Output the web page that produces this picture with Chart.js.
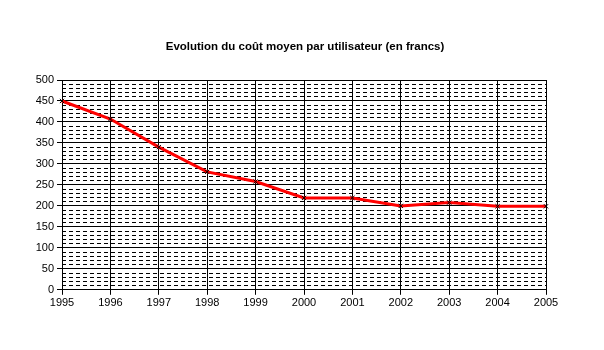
<!DOCTYPE html>
<html lang="fr">
<head>
    <meta charset="UTF-8">
    <title>Evolution du coût moyen par utilisateur</title>
    <script src="https://cdn.jsdelivr.net/npm/chart.js"></script>
    <style>
        html, body { margin: 0; padding: 0; background: #fff; }
        .chart-container { width: 604px; height: 350px; position: relative; }
    </style>
</head>
<body>
    <div class="chart-container">
        <canvas id="costChart"></canvas>
    </div>

    <script>
        // data
        const years = ['1995', '1996', '1997', '1998', '1999', '2000', '2001', '2002', '2003', '2004', '2005'];
        const avgCost = [450, 407, 340, 281, 258, 219, 219, 200, 208, 199, 199];
        const yMin = 0;
        const yMax = 500;
        const chartTitle = 'Evolution du coût moyen par utilisateur (en francs)';

        // title drawn centred on the whole canvas, not on the padded area
        const pageTitle = {
            id: 'pageTitle',
            afterDraw(chart) {
                const c = chart.ctx;
                c.save();
                c.fillStyle = '#000';
                c.font = 'bold 11.5px "Liberation Sans"';
                c.textAlign = 'center';
                c.textBaseline = 'middle';
                c.fillText(chartTitle, 305, 47);
                c.restore();
            }
        };

        const ctx = document.getElementById('costChart').getContext('2d');
        const costChart = new Chart(ctx, {
            type: 'line',
            data: {
                labels: years,
                datasets: [{
                    label: 'Coût moyen',
                    data: avgCost,
                    borderColor: '#ff0000',
                    borderWidth: 3,
                    tension: 0,
                    pointStyle: 'crossRot',
                    pointRadius: 3,
                    pointBorderColor: '#000',
                    pointBorderWidth: 1
                }]
            },
            options: {
                responsive: true,
                maintainAspectRatio: false,
                animation: false,
                layout: {
                    padding: { top: 80, right: 58, bottom: 38, left: 0 }
                },
                plugins: {
                    legend: { display: false },
                    tooltip: { enabled: false },
                    title: { display: false }
                },
                scales: {
                    x: {
                        offset: false,
                        grid: { color: '#000', lineWidth: 1, tickLength: 5 },
                        border: { color: '#000' },
                        ticks: {
                            color: '#000',
                            maxRotation: 0,
                            autoSkip: false,
                            padding: 2,
                            font: { family: 'Liberation Sans', size: 11 }
                        }
                    },
                    yMinor: {
                        position: 'left',
                        min: yMin,
                        max: yMax,
                        afterFit: s => { s.width = 0; },
                        ticks: { display: false, stepSize: 10 },
                        grid: { color: '#000', lineWidth: 1, drawTicks: false },
                        border: { display: false, dash: [4, 3] }
                    },
                    y: {
                        position: 'left',
                        min: yMin,
                        max: yMax,
                        afterFit: s => { s.width = 62; },
                        grid: { color: '#000', lineWidth: 1, tickLength: 5 },
                        border: { color: '#000' },
                        ticks: {
                            stepSize: 50,
                            color: '#000',
                            padding: 3,
                            font: { family: 'Liberation Sans', size: 11 }
                        }
                    }
                }
            },
            plugins: [pageTitle]
        });
    </script>
</body>
</html>
